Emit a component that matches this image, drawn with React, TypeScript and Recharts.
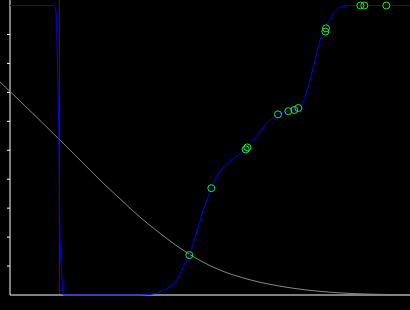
import { ComposedChart, Line, Scatter, XAxis, YAxis, ReferenceLine } from 'recharts';

// blue efficiency-like curve (x, y)
const effX = [
  0, 1.1, 1.125, 1.15, 1.165, 1.18, 1.215, 1.235, 1.25, 1.29, 1.31, 1.32, 1.34,
  3.2, 3.5, 3.75, 4.0, 4.167, 4.292, 4.375, 4.483, 4.583, 4.708, 4.833, 4.958,
  5.033, 5.125, 5.25, 5.375, 5.542, 5.75, 5.892, 5.933, 6.083, 6.25, 6.417, 6.542,
  6.7, 6.958, 7.108, 7.208, 7.333, 7.417, 7.5, 7.583, 7.667, 7.75, 7.883, 7.9,
  8.0, 8.083, 8.208, 8.333, 8.583, 10,
];
const effY = [
  1, 1, 0.995, 0.978, 0.936, 0.836, 0.6, 0.4, 0.2, 0.079, 0.035, 0.01, 0,
  0, 0.002, 0.0114, 0.0287, 0.0518, 0.0864, 0.1105, 0.138, 0.18, 0.236, 0.294, 0.34,
  0.369, 0.398, 0.428, 0.448, 0.468, 0.487, 0.503, 0.51, 0.535, 0.564, 0.593, 0.61,
  0.624, 0.635, 0.639, 0.646, 0.667, 0.701, 0.743, 0.789, 0.835, 0.881, 0.91, 0.921,
  0.95, 0.973, 0.99, 0.998, 1, 1,
];

// grey falling tail
const tailX = [-0.25, 0.25, 0.75, 1.25, 1.75, 2.25, 2.75, 3.25, 3.75, 4.25, 4.75, 5.25, 6.0, 7.0, 8.0, 9.25, 10];
const tailY = [0.736, 0.67, 0.603, 0.535, 0.466, 0.397, 0.332, 0.269, 0.213, 0.162, 0.119, 0.086, 0.0525, 0.025, 0.0097, 0.0021, 0.001];

// green markers
const hitX = [4.483, 5.033, 5.892, 5.933, 6.7, 6.958, 7.108, 7.208, 7.883, 7.9, 8.758, 8.858, 9.408];
const hitY = [0.138, 0.369, 0.503, 0.51, 0.624, 0.635, 0.639, 0.646, 0.91, 0.921, 1, 1, 1];

const xTicks = [1, 2, 3, 4, 5, 6, 7, 8, 9];
const yTicks = [0.1, 0.2, 0.3, 0.4, 0.5, 0.6, 0.7, 0.8, 0.9];
const cutX = 1.2325;

const effData = effX.map((x, i) => ({ x, y: effY[i] }));
const tailData = tailX.map((x, i) => ({ x, y: tailY[i] }));
const hitData = hitX.map((x, i) => ({ x, y: hitY[i] }));

const Ring = (props: any) => (
  <circle cx={props.cx} cy={props.cy} r={3.5} fill="none" stroke="#22ee22" strokeWidth={1} />
);

export default function App() {
  return (
    <div style={{ position: 'absolute', left: 0, top: 0, width: 410, height: 310, background: '#000' }}>
      <ComposedChart width={410} height={310} margin={{ top: 0, right: 0, bottom: 0, left: 0 }}>
        <XAxis
          dataKey="x"
          type="number"
          domain={[-0.25, 10]}
          ticks={xTicks}
          tick={false}
          axisLine={false}
          tickLine={{ stroke: '#fff' }}
          tickSize={4}
          height={15}
        />
        <YAxis type="number" domain={[0, 1.019]} hide />
        <ReferenceLine x={cutX} stroke="#660066" strokeWidth={1} />
        <ReferenceLine x={0} stroke="#fff" strokeWidth={1} />
        <ReferenceLine segment={[{ x: 0, y: 0 }, { x: 10, y: 0 }]} stroke="#fff" strokeWidth={1} />
        {yTicks.map((t) => (
          <ReferenceLine key={t} segment={[{ x: -0.075, y: t }, { x: 0, y: t }]} stroke="#fff" strokeWidth={1} />
        ))}
        <Line
          data={tailData}
          dataKey="y"
          type="monotone"
          stroke="#888"
          strokeWidth={1}
          dot={false}
          activeDot={false}
          isAnimationActive={false}
        />
        <Line
          data={effData}
          dataKey="y"
          type="monotone"
          stroke="#0000ff"
          strokeWidth={1}
          dot={false}
          activeDot={false}
          isAnimationActive={false}
        />
        <Scatter data={hitData} dataKey="y" shape={<Ring />} isAnimationActive={false} />
      </ComposedChart>
    </div>
  );
}
